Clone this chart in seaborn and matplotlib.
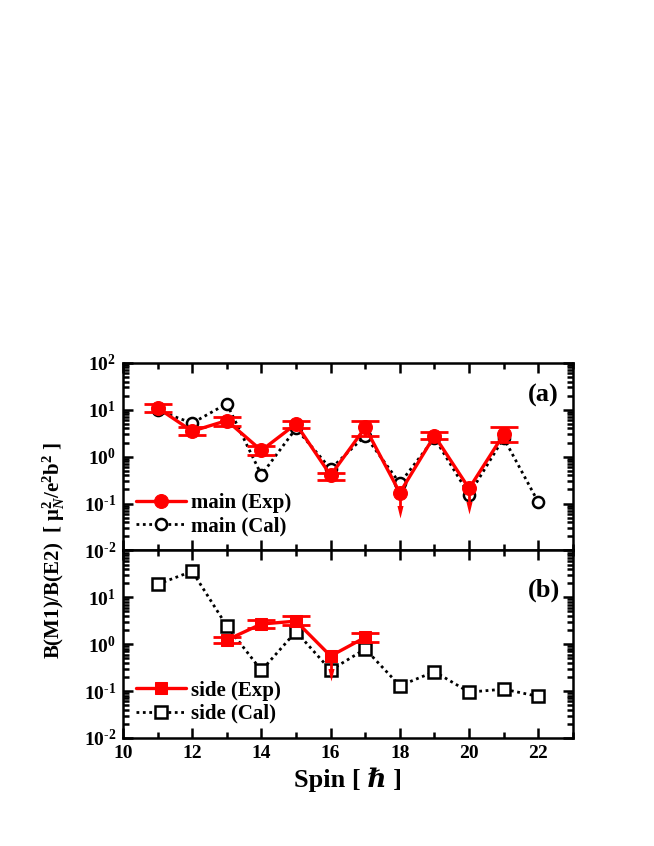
import numpy as np
import pandas as pd
import matplotlib
matplotlib.use("Agg")
import matplotlib.pyplot as plt
import matplotlib.ticker as mticker
import seaborn as sns

sns.set_theme(style="white")
plt.rcParams['font.family'] = ['Liberation Serif', 'DejaVu Serif']
plt.rcParams['font.weight'] = 'bold'
plt.rcParams['mathtext.fontset'] = 'custom'
plt.rcParams['mathtext.rm'] = 'Liberation Serif:bold'
plt.rcParams['mathtext.bf'] = 'Liberation Serif:bold'
plt.rcParams['mathtext.it'] = 'Liberation Serif:italic:bold'
for k in ('text.color', 'axes.labelcolor', 'xtick.color', 'ytick.color', 'axes.edgecolor'):
    plt.rcParams[k] = 'black'

# ---------------- data ----------------
main_exp_spin = [11, 12, 13, 14, 15, 16, 17, 18, 19, 20, 21]
main_exp_val = [11, 3.5, 5.9, 1.36, 5.0, 0.40, 4.2, 0.17, 2.8, 0.21, 3.0]
main_exp_lo = [9.0, 2.9, 4.6, 1.1, 4.0, 0.32, 2.7, np.nan, 2.4, np.nan, 2.1]
main_exp_hi = [13.0, 4.4, 7.0, 1.66, 5.9, 0.46, 5.65, np.nan, 3.3, np.nan, 4.3]
main_exp_uplim = [False, False, False, False, False, False, False, True, False, True, False]

main_cal_spin = [11, 12, 13, 14, 15, 16, 17, 18, 19, 20, 21, 22]
main_cal_val = [9.7, 5.2, 13.5, 0.41, 4.0, 0.55, 2.8, 0.27, 2.5, 0.155, 2.5, 0.107]

side_exp_spin = [13, 14, 15, 16, 17]
side_exp_val = [1.23, 2.7, 3.1, 0.56, 1.4]
side_exp_lo = [1.05, 2.2, 2.6, np.nan, 1.14]
side_exp_hi = [1.46, 3.3, 3.9, np.nan, 1.7]
side_exp_uplim = [False, False, False, True, False]

side_cal_spin = [11, 12, 13, 14, 15, 16, 17, 18, 19, 20, 21, 22]
side_cal_val = [19, 36, 2.45, 0.275, 1.86, 0.28, 0.79, 0.13, 0.26, 0.095, 0.11, 0.077]

panel_labels = ["(a)", "(b)"]
legend_labels = [["main (Exp)", "main (Cal)"], ["side (Exp)", "side (Cal)"]]

RED = '#ff0000'
ARROW_HEAD = [(-1.1, 4.5), (1.1, 4.5), (0, 0), (-1.1, 4.5)]

fig = plt.figure(figsize=(6.54, 8.46), dpi=100)
gs = fig.add_gridspec(2, 1, left=0.188, right=0.876, bottom=0.1277, top=0.571, hspace=0)
ax1 = fig.add_subplot(gs[0])
ax2 = fig.add_subplot(gs[1], sharex=ax1)

def draw_panel(ax, exp_spin, exp_val, lo, hi, uplim, cal_spin, cal_val, marker, labels, exp_ms, cal_ms):
    df_cal = pd.DataFrame({'spin': cal_spin, 'val': cal_val})
    df_exp = pd.DataFrame({'spin': exp_spin, 'val': exp_val})
    sns.lineplot(data=df_cal, x='spin', y='val', ax=ax, color='black', lw=2.0,
                 linestyle=(0, (1, 1.3)), marker=marker, markersize=cal_ms,
                 markerfacecolor='white', markeredgecolor='black', markeredgewidth=1.8,
                 label=labels[1], sort=False, estimator=None, zorder=2)
    lo = np.array(lo); hi = np.array(hi); v = np.array(exp_val); s = np.array(exp_spin)
    ok = ~np.isnan(lo)
    ax.errorbar(s[ok], v[ok], yerr=[v[ok] - lo[ok], hi[ok] - v[ok]], fmt='none',
                ecolor=RED, elinewidth=2.0, capsize=10, capthick=2.0, zorder=3)
    ul = np.array(uplim)
    if ul.any():
        ax.vlines(s[ul], v[ul] * 0.4, v[ul], color=RED, lw=2.0, zorder=3)
        ax.plot(s[ul], v[ul] * 0.29, linestyle='none', marker=ARROW_HEAD, markersize=18,
                color=RED, markeredgewidth=0, zorder=3)
    sns.lineplot(data=df_exp, x='spin', y='val', ax=ax, color=RED, lw=2.4,
                 marker=marker, markersize=exp_ms, markerfacecolor=RED,
                 markeredgecolor=RED, label=labels[0], sort=False, estimator=None, zorder=4)
    ax.set_yscale('log')
    ax.set_ylim(1e-2, 1e2)
    ax.set_xlim(10, 23)
    ax.set_xlabel('')
    ax.set_ylabel('')
    h, l = ax.get_legend_handles_labels()
    order = [l.index(labels[0]), l.index(labels[1])]
    ax.legend([h[i] for i in order], [l[i] for i in order], loc='lower left',
              bbox_to_anchor=(0.03, 0.075), frameon=False,
              handlelength=2.4, handletextpad=0.2, labelspacing=0.15,
              borderpad=0, borderaxespad=0, prop={'weight': 'bold', 'size': 15})

draw_panel(ax1, main_exp_spin, main_exp_val, main_exp_lo, main_exp_hi, main_exp_uplim,
           main_cal_spin, main_cal_val, 'o', legend_labels[0], 10, 8)
draw_panel(ax2, side_exp_spin, side_exp_val, side_exp_lo, side_exp_hi, side_exp_uplim,
           side_cal_spin, side_cal_val, 's', legend_labels[1], 9, 8)

def logfmt(v, pos):
    e = int(np.round(np.log10(v)))
    es = str(e).replace('-', '‐')
    return r'$\mathbf{10^{%s}}$' % es

def logfmt_b(v, pos):
    e = int(np.round(np.log10(v)))
    if e >= 2:
        return ''
    return logfmt(v, pos)

for ax, fmt in ((ax1, logfmt), (ax2, logfmt_b)):
    ax.yaxis.set_major_locator(mticker.LogLocator(base=10, numticks=10))
    ax.yaxis.set_minor_locator(mticker.LogLocator(base=10, subs=np.arange(2, 10), numticks=10))
    ax.yaxis.set_minor_formatter(mticker.NullFormatter())
    ax.yaxis.set_major_formatter(mticker.FuncFormatter(fmt))
    ax.xaxis.set_major_locator(mticker.MultipleLocator(2))
    ax.xaxis.set_minor_locator(mticker.MultipleLocator(1))
    ax.tick_params(which='both', direction='in', top=True, right=True, bottom=True, left=True,
                   width=1.8, color='black')
    ax.tick_params(which='major', length=7, labelsize=14, pad=5)
    ax.tick_params(which='minor', length=4)
    for sp in ax.spines.values():
        sp.set_linewidth(1.8)
        sp.set_color('black')
    for t in ax.get_yticklabels() + ax.get_xticklabels():
        t.set_fontweight('bold')

ax1.tick_params(labelbottom=False)
ax2.set_xticks([10, 12, 14, 16, 18, 20, 22])
ax2.set_xticklabels(['10', '12', '14', '16', '18', '20', '22'], fontweight='bold', fontsize=14)

ax1.text(0.935, 0.825, panel_labels[0], transform=ax1.transAxes, fontsize=19,
         fontweight='bold', ha='center', va='center')
ax2.text(0.935, 0.79, panel_labels[1], transform=ax2.transAxes, fontsize=19,
         fontweight='bold', ha='center', va='center')

ax2.set_xlabel('Spin [ ℏ ]', fontsize=19, fontweight='bold', labelpad=4)

fig.text(54 / 654, 1 - 551 / 846, r'B(M1)/B(E2)  [ $\mathrm{μ}_N^2$/e$^2$b$^2$ ]', rotation=90,
         ha='center', va='center', fontsize=15, fontweight='bold')

fig.savefig('out.png', dpi=100)
